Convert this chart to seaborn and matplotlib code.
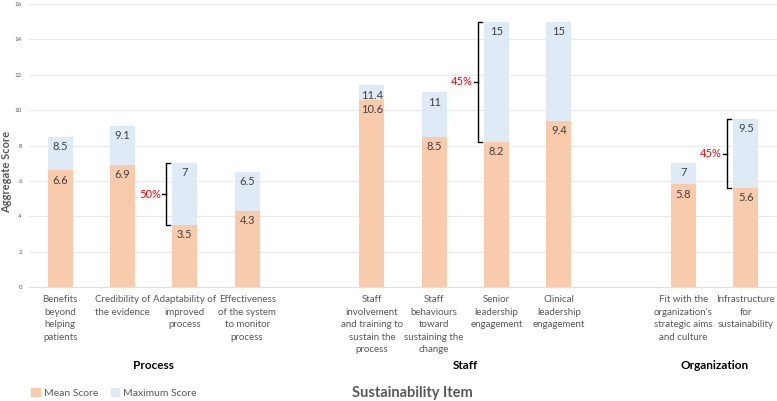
import matplotlib
matplotlib.use("Agg")
import matplotlib.pyplot as plt
import seaborn as sns
import pandas as pd
import numpy as np
from matplotlib.patches import Patch

groups = ["Process", "Staff", "Organization"]
items = [
    ["Benefits\nbeyond\nhelping\npatients", "Credibility of\nthe evidence",
     "Adaptability of\nimproved\nprocess", "Effectiveness\nof the system\nto monitor\nprocess"],
    ["Staff\ninvolvement\nand training to\nsustain the\nprocess", "Staff\nbehaviours\ntoward\nsustaining the\nchange",
     "Senior\nleadership\nengagement", "Clinical\nleadership\nengagement"],
    ["Fit with the\norganization's\nstrategic aims\nand culture", "Infrastructure\nfor\nsustainability"],
]
mean_scores = [6.6, 6.9, 3.5, 4.3, 10.6, 8.5, 8.2, 9.4, 5.8, 5.6]
max_scores = [8.5, 9.1, 7, 6.5, 11.4, 11, 15, 15, 7, 9.5]
max_labels = ["8.5", "9.1", "7", "6.5", "11.4", "11", "15", "15", "7", "9.5"]
mean_labels = ["6.6", "6.9", "3.5", "4.3", "10.6", "8.5", "8.2", "9.4", "5.8", "5.6"]
brackets = [(2, "50%"), (6, "45%"), (9, "45%")]  # item index, label

# positions with a blank slot between groups
pos = []
labels = []
grp_centers = []
p = 0
for g, its in enumerate(items):
    start = p
    for it in its:
        pos.append(p)
        labels.append(it)
        p += 1
    grp_centers.append((start + p - 1) / 2)
    p += 1

df = pd.DataFrame({"pos": pos, "mean": mean_scores, "max": max_scores})

plt.rcParams["font.family"] = ["Lato", "DejaVu Sans"]
fig = plt.figure(figsize=(7.77, 4.01), dpi=100)
ax = fig.add_axes([0.0373, 0.284, 0.9627, 0.706])

orange = "#F8CBAD"
blue = "#DEEBF7"
sns.barplot(data=df, x="pos", y="max", native_scale=True, width=0.4, color=blue,
            saturation=1, ax=ax, zorder=2)
sns.barplot(data=df, x="pos", y="mean", native_scale=True, width=0.4, color=orange,
            saturation=1, ax=ax, zorder=3)

ax.set_xlim(-0.5, 11.5)
ax.set_ylim(0, 16)
ax.set_yticks(np.arange(0, 17, 2))
ax.tick_params(axis="y", labelsize=4.5, colors="#595959", length=0, pad=5)
ax.yaxis.grid(True, color="#E8E8E8", lw=0.8, zorder=0)
ax.set_axisbelow(True)
for s in ax.spines.values():
    s.set_visible(False)
ax.spines["bottom"].set_visible(True)
ax.spines["bottom"].set_color("#E0E0E0")

ax.set_xticks(pos)
ax.set_xticklabels(labels, fontsize=7, color="#595959", linespacing=1.5, va="top")
ax.tick_params(axis="x", length=0, pad=6)
ax.set_xlabel("")
ax.set_ylabel("Aggregate Score", fontsize=8, fontweight="bold", color="#595959")
ax.yaxis.set_label_coords(-17 / 748, 0.406)

for x, mv, xv, ml, xl in zip(pos, mean_scores, max_scores, mean_labels, max_labels):
    ax.text(x, xv - 0.55, xl, ha="center", va="center", fontsize=8, color="#404040", zorder=5)
    ax.text(x, mv - 0.55, ml, ha="center", va="center", fontsize=8, color="#404040", zorder=5)

for idx, lab in brackets:
    x = pos[idx] - 0.3
    lo, hi = mean_scores[idx], max_scores[idx]
    mid = (lo + hi) / 2
    ax.plot([x + 0.06, x, x, x + 0.06], [hi, hi, lo, lo], color="black", lw=1, zorder=6)
    ax.plot([x - 0.06, x], [mid, mid], color="black", lw=1, zorder=6)
    ax.text(x - 0.08, mid, lab, ha="right", va="center", fontsize=8, color="#FF0000", zorder=6)

for g, c in zip(groups, grp_centers):
    ax.text(c, -78 / 283, g, transform=ax.get_xaxis_transform(), ha="center", va="center",
            fontsize=8.5, fontweight="bold", color="black")

fig.text(412 / 777, 1 - 393 / 401, "Sustainability Item", ha="center", va="center",
         fontsize=10.5, fontweight="bold", color="#595959")

handles = [Patch(color=orange, label="Mean Score"), Patch(color=blue, label="Maximum Score")]
fig.legend(handles=handles, loc="center left", bbox_to_anchor=(22 / 777, 1 - 393 / 401),
           ncol=2, frameon=False, fontsize=7.5, labelcolor="#595959",
           handlelength=0.8, handleheight=0.8, handletextpad=0.4, columnspacing=1.2)

fig.savefig("out.png", dpi=100)
